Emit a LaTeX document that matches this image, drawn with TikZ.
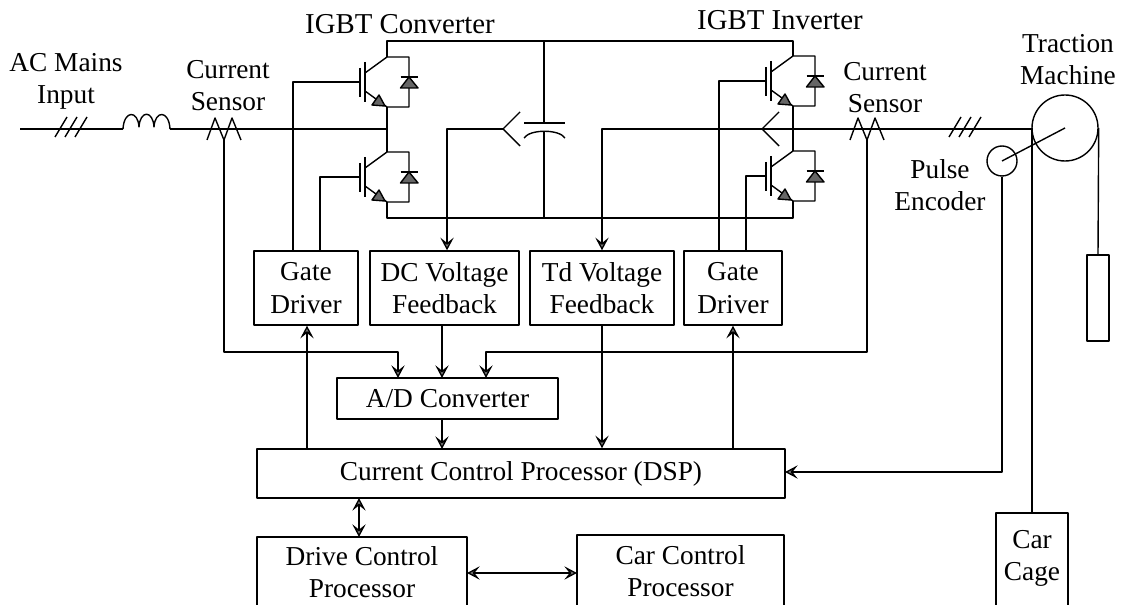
\documentclass[tikz,border=0pt]{standalone}
\usepackage{fontspec}
\setmainfont{Liberation Serif}
\usetikzlibrary{arrows.meta}
\tikzset{
  wire/.style={line width=1.05pt,line join=round},
  tipk/.tip={Stealth[length=9.5pt,width=10pt,inset=4pt,fill=black!50]},
  arr/.style={wire,-tipk},
  barr/.style={wire,tipk-tipk},
  box/.style={draw,wire,rectangle,inner sep=0pt,align=center,font=\fontsize{20.5}{24.5}\selectfont},
  lbl/.style={align=center,inner sep=0pt,font=\fontsize{20.5}{24}\selectfont},
  lblbig/.style={lbl,font=\fontsize{21.6}{24}\selectfont},
  igbt/.pic={
    \draw[wire] (-27,11) -- (-27,40);
    \draw[wire] (-22,5) -- (-22,45);
    \draw[wire] (-22,16) -- (0,0) -- (22,0) -- (22,50) -- (0,50) -- (-22,34);
    \draw[wire,fill=black!60] (-2,49) -- (-8,38) -- (-15,48) -- cycle;
    \draw[wire] (13.5,20) -- (31,20);
    \draw[wire,fill=black!60] (22,20) -- (31,31) -- (13.5,31) -- cycle;
    \coordinate (-g) at (-27,25);
    \coordinate (-c) at (0,0);
    \coordinate (-e) at (0,50);
  },
  csensor/.pic={
    \draw[wire] (-17,11) -- (-9,-11) -- (0,11) -- (8,-11) -- (17,11);
    \coordinate (-b) at (0,11);
  },
  hashes/.pic={
    \draw[wire] (-16,8) -- (-4,-12) (-6,8) -- (6,-12) (4,8) -- (16,-12);
  }
}
\begin{document}
\begin{tikzpicture}[x=0.75pt,y=-0.75pt]
\useasboundingbox (0,0) rectangle (1121,605);
\clip (0,0) rectangle (1121,605);

% boxes
\node[box,minimum width=78pt,minimum height=55.5pt] (gd1) at (306,288) {Gate\\Driver};
\node[box,minimum width=111.75pt,minimum height=55.5pt] (dcf) at (444.5,288) {DC Voltage\\Feedback};
\node[box,minimum width=108pt,minimum height=55.5pt] (tdf) at (602,288) {Td Voltage\\Feedback};
\node[box,minimum width=73.5pt,minimum height=55.5pt] (gd2) at (733,288) {Gate\\Driver};
\node[box,minimum width=165.75pt,minimum height=30.75pt] (adc) at (447.5,398.5) {A/D Converter};
\node[box,minimum width=396pt,minimum height=36.75pt] (dsp) at (521,473.5) {Current Control Processor (DSP)};
\node[box,minimum width=157.5pt,minimum height=75pt] (drv) at (362,587) {};
\node[lbl] (drvt) at (362,572) {Drive Control\\Processor};
\node[box,minimum width=155.25pt,minimum height=75pt] (car) at (680.5,585) {};
\node[lbl] (cart) at (680.5,571) {Car Control\\Processor};
\node[box,minimum width=54pt,minimum height=90pt] (cage) at (1032,573) {};
\node[lbl] (caget) at (1032,558) {Car\\Cage};
\node[box,minimum width=16.5pt,minimum height=64.5pt] (cw) at (1098,298) {};

% labels
\node[lblbig] (l1) at (400,24) {IGBT Converter};
\node[lblbig] (l2) at (780,20) {IGBT Inverter};
\node[lbl] (l3) at (66,81) {AC Mains\\Input};
\node[lbl] (l4) at (228,86) {Current\\Sensor};
\node[lbl] (l5) at (885,88) {Current\\Sensor};
\node[lbl] (l6) at (1068,60) {Traction\\Machine};
\node[lbl] (l7) at (940,185) {Pulse\\Encoder};

% switches
\pic (q1) at (387,57) {igbt};
\pic (q2) at (387,152) {igbt};
\pic (q3) at (793,56) {igbt};
\pic (q4) at (793,151) {igbt};

% buses
\coordinate (capt) at (544,123);
\coordinate (capb) at (544,132);
\coordinate (topl) at (544,41);
\coordinate (botl) at (544,218);
\draw[wire] (q1-c) |- (topl) -| (q3-c);
\draw[wire] (q2-e) |- (botl) -| (q4-e);
\draw[wire] (topl) -- (capt);
\draw[wire] (botl) -- (capb);
\draw[wire] (q1-e) -- (q2-c);
\draw[wire] (q3-e) -- (q4-c);
\coordinate (capl) at (524,123);
\coordinate (capr) at (565,123);
\draw[wire] (capl) -- (capr);
\draw[wire] (524,138) .. controls (530,129) and (559,129) .. (565,138);

% left power line
\coordinate (acin) at (20,129);
\coordinate (lstart) at (123,129);
\coordinate (lend) at (170,129);
\coordinate (mid1) at (387,129);
\draw[wire] (acin) -- (lstart);
\draw[wire] (lstart) .. controls (124,110) and (138,110) .. (139,127)
  .. controls (140,110) and (153,110) .. (154,127)
  .. controls (155,110) and (169,110) .. (lend);
\draw[wire] (lend) -- (mid1);
\pic at (71,129) {hashes};
\pic (s1) at (224,129) {csensor};

% right power line
\coordinate (ant2) at (762,129);
\node[circle,draw,wire,minimum size=49.5pt,inner sep=0pt] (tm) at (1065,128) {};
\node[circle,draw,wire,minimum size=22.5pt,inner sep=0pt] (enc) at (1002,161) {};
\coordinate (tmw) at (1032,129);
\draw[wire] (ant2) -- (tmw);
\pic at (965,129) {hashes};
\pic (s2) at (867,129) {csensor};
\draw[wire] (ant2) -- ++(17,-17);
\draw[wire] (ant2) -- ++(17,17);
\draw[arr] (ant2) -| (tdf.north);

% DC antenna
\coordinate (ant1) at (503,129);
\draw[wire] (ant1) -- ++(17,-17);
\draw[wire] (ant1) -- ++(17,17);
\draw[arr] (ant1) -| ([xshift=1.9pt]dcf.north);

% gate leads
\draw[wire] (q1-g) -| ([xshift=-9.75pt]gd1.north);
\draw[wire] (q2-g) -| ([xshift=10.5pt]gd1.north);
\draw[wire] (q3-g) -| ([xshift=-10.5pt]gd2.north);
\draw[wire] (q4-g) -| ([xshift=9.75pt]gd2.north);

% sensors to A/D
\coordinate (adl) at (398,378);
\coordinate (adr) at (486,378);
\draw[arr] (s1-b) |- (398,352) -- (adl);
\draw[arr] (s2-b) |- (486,352) -- (adr);
\draw[arr] (dcf.south -| 442,0) -- (442,378);
\draw[arr] (442,419) -- (442,449);
\draw[arr] (tdf.south) -- (dsp.north -| tdf.south);
\draw[arr] (307,449) -- (gd1.south -| 307,0);
\draw[arr] (733,449) -- (gd2.south);

% DSP links
\draw[barr] (359,498) -- (359,537);
\draw[barr] (467,573) -- (577,573);
\draw[arr] (enc.south) -- (1002,472) -- (785,472);

% machine
\draw[wire] (tm.center) -- (enc.center);
\draw[wire] (1032,128) -- (cage.north);
\draw[wire] (tm.east) -- (cw.north);
\end{tikzpicture}
\end{document}
